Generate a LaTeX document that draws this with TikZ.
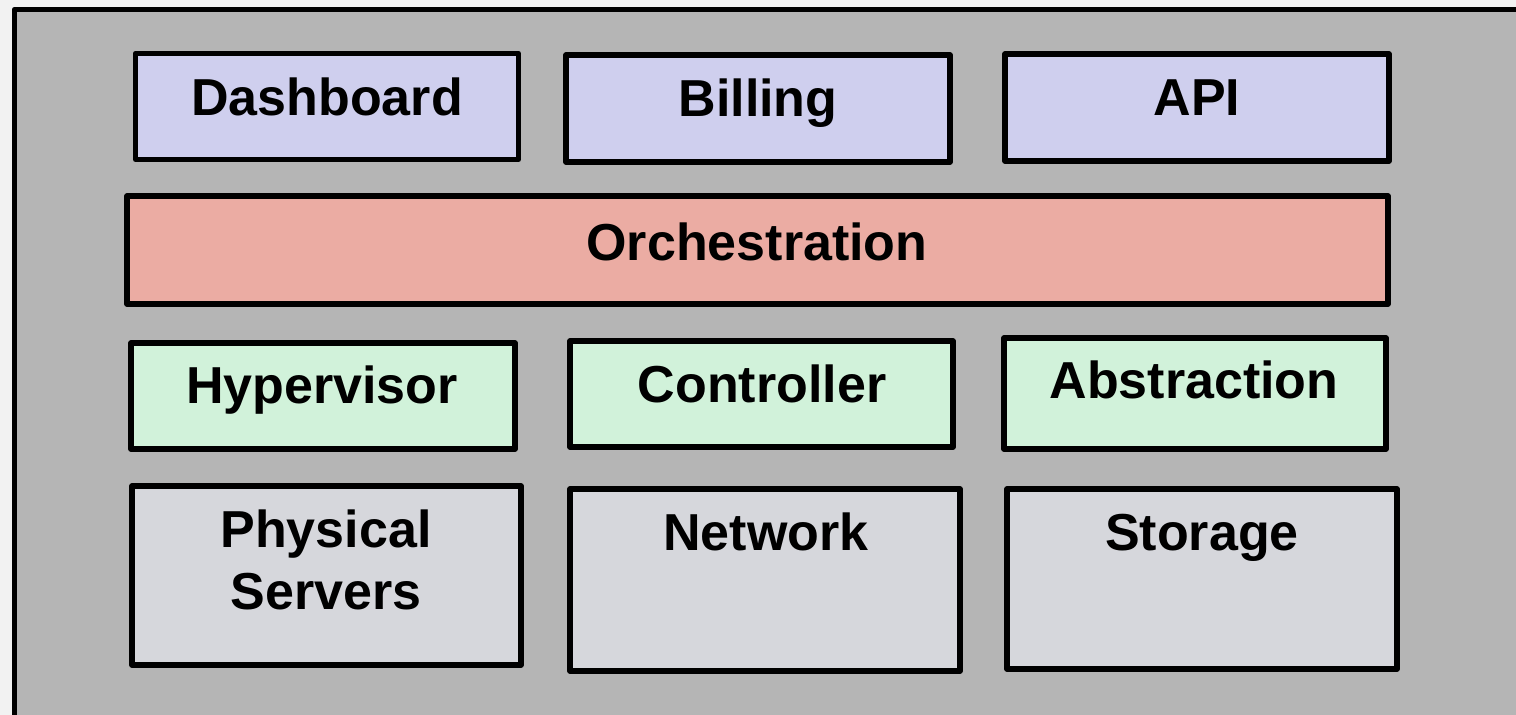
\documentclass[tikz,border=0pt]{standalone}
\usepackage{fontspec}
\setmainfont{Liberation Sans}
\usepackage{tikz}
\usetikzlibrary{positioning}
\definecolor{pagegray}  {RGB}{242, 242, 242}
\definecolor{framegray} {RGB}{181, 181, 181}
\definecolor{appblue}   {RGB}{207, 207, 238}
\definecolor{orchred}   {RGB}{235, 172, 163}
\definecolor{virtgreen} {RGB}{209, 242, 218}
\definecolor{hwgray}    {RGB}{214, 215, 220}

\tikzset{
	layerbox/.style={draw=black, line width=2.6pt, line join=round},
	layertext/.style={font=\fontsize{26}{31}\selectfont\bfseries, inner sep=0pt, anchor=base, align=center}
}

\begin{document}
\begin{tikzpicture}[x=0.5pt, y=-0.5pt]
						\useasboundingbox (0,0) rectangle (1516,715);
						\clip (0,0) rectangle (1516,715);
						\fill[pagegray] (0,0) rectangle (1516,715);
						% outer frame runs off the right and bottom edges
						\draw[layerbox, fill=framegray] (14.5,9.5) rectangle (1540,740);
						% top row
						\draw[layerbox, fill=appblue] (135.5,53.5) rectangle (518.5,159.5);
						\draw[layerbox, fill=appblue] (566,55) rectangle (950,162);
						\draw[layerbox, fill=appblue] (1005,54) rectangle (1389,161);
						\node[layertext] (dash) at (327,116) {Dashboard};
						\node[layertext] (bill) at (758,117) {Billing};
						\node[layertext] (api) at (1197,116) {API};
						% orchestration layer
						\draw[layerbox, fill=orchred] (127,196) rectangle (1388,304);
						\node[layertext] (orch) at (757,261) {Orchestration};
						% virtualisation row
						\draw[layerbox, fill=virtgreen] (131,343) rectangle (515,449);
						\draw[layerbox, fill=virtgreen] (570,341) rectangle (953,447);
						\draw[layerbox, fill=virtgreen] (1004,338) rectangle (1386,449);
						\node[layertext] (hyp) at (322,404) {Hypervisor};
						\node[layertext] (ctrl) at (762,403) {Controller};
						\node[layertext] (abs) at (1194,399) {Abstraction};
						% hardware row
						\draw[layerbox, fill=hwgray] (132,486) rectangle (521,665);
						\draw[layerbox, fill=hwgray] (570,489) rectangle (960,671);
						\draw[layerbox, fill=hwgray] (1007,489) rectangle (1397,669);
						\node[layertext] (phys) at (326,610) {Physical\\Servers};
						\node[layertext] (net) at (766,551) {Network};
						\node[layertext] (stor) at (1202,551) {Storage};
					\end{tikzpicture}
\end{document}
